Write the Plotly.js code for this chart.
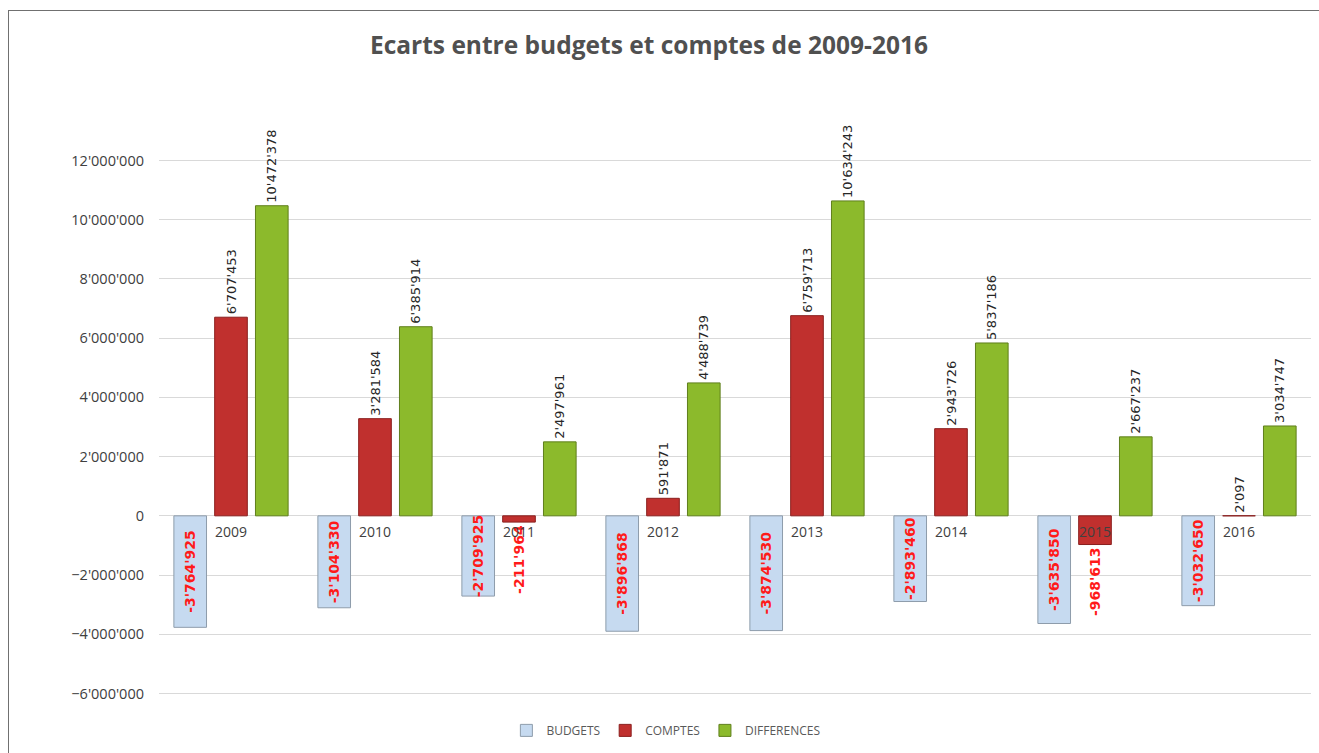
<!DOCTYPE html>
<html>
<head>
<meta charset="utf-8">
<script src="https://cdn.plot.ly/plotly-3.0.1.min.js"></script>
<style>
  html, body { margin: 0; padding: 0; background: #ffffff; overflow: hidden; }
  #frame { position: absolute; left: 8px; top: 10px; width: 1400px; height: 800px;
           border-left: 1px solid #707070; border-top: 1px solid #707070; }
  #chart { position: absolute; left: 0; top: 0; width: 1319px; height: 753px; }
</style>
</head>
<body>
<div id="frame"></div>
<div id="chart"></div>
<script>
const years = ['2009', '2010', '2011', '2012', '2013', '2014', '2015', '2016'];
const budgets = [-3764925, -3104330, -2709925, -3896868, -3874530, -2893460, -3635850, -3032650];
const comptes = [6707453, 3281584, -211964, 591871, 6759713, 2943726, -968613, 2097];
const differences = [10472378, 6385914, 2497961, 4488739, 10634243, 5837186, 2667237, 3034747];
const seriesNames = ['BUDGETS', 'COMPTES', 'DIFFERENCES'];
const yTicks = [-6000000, -4000000, -2000000, 0, 2000000, 4000000, 6000000, 8000000, 10000000, 12000000];

const labelFont = 'DejaVu Sans, Verdana, sans-serif';

const traces = [
  {
    type: 'bar', name: seriesNames[0], x: years, y: budgets,
    marker: { color: '#c6daf0', line: { color: '#8e9cab', width: 1 } },
    texttemplate: '<b>%{y:,d}</b>', textposition: 'inside', insidetextanchor: 'middle',
    textangle: -90, constraintext: 'none',
    textfont: { family: labelFont, size: 14, color: '#ff1a1a' },
    cliponaxis: false, hoverinfo: 'x+y+name'
  },
  {
    type: 'bar', name: seriesNames[1], x: years, y: comptes,
    marker: { color: '#c0302e', line: { color: '#8a1f1e', width: 1 } },
    texttemplate: comptes.map(v => v < 0 ? '<b>%{y:,d}</b>' : '%{y:,d}'), textposition: 'outside',
    textangle: -90, constraintext: 'none',
    textfont: { family: labelFont, size: comptes.map(v => v < 0 ? 14 : 13),
                color: comptes.map(v => v < 0 ? '#ff1a1a' : '#262626') },
    cliponaxis: false, hoverinfo: 'x+y+name'
  },
  {
    type: 'bar', name: seriesNames[2], x: years, y: differences,
    marker: { color: '#8cba2c', line: { color: '#5f7f1c', width: 1 } },
    texttemplate: '%{y:,d}', textposition: 'outside',
    textangle: -90, constraintext: 'none',
    textfont: { family: labelFont, size: 13, color: '#262626' },
    cliponaxis: false, hoverinfo: 'x+y+name'
  }
];

// category labels drawn at the zero line (category index positions on the category axis)
const annotations = years.map((y, i) => ({
  x: i, y: 0, xref: 'x', yref: 'y', text: y, showarrow: false,
  yanchor: 'top', xanchor: 'center', yshift: -4,
  font: { family: 'Open Sans, sans-serif', size: 14, color: '#404040' }
}));

const layout = {
  width: 1319, height: 753,
  margin: { l: 159, r: 8, t: 159, b: 56, pad: 0 },
  paper_bgcolor: 'rgba(0,0,0,0)',
  plot_bgcolor: 'rgba(0,0,0,0)',
  separators: ".'",
  barmode: 'group', bargap: 0.15, bargroupgap: 0.2,
  title: {
    text: '<b>Ecarts entre budgets et comptes de 2009-2016</b>',
    font: { family: 'Open Sans, sans-serif', size: 24.5, color: '#505050' },
    x: 0.492, xanchor: 'center', xref: 'container', y: 0.94, yanchor: 'middle', yref: 'container'
  },
  xaxis: {
    type: 'category', categoryorder: 'array', categoryarray: years,
    range: [-0.5, years.length - 0.5], autorange: false,
    showticklabels: false, showgrid: false, zeroline: false,
    showline: false, ticks: ''
  },
  yaxis: {
    range: [-6050000, 12050000], autorange: false, tickvals: yTicks, tickformat: ',d',
    showgrid: true, gridcolor: '#d9d9d9', gridwidth: 1,
    zeroline: true, zerolinecolor: '#d9d9d9', zerolinewidth: 1,
    showline: false, ticks: '', ticklabelstandoff: 14,
    tickfont: { family: 'Open Sans, sans-serif', size: 14.5, color: '#404040' }
  },
  legend: {
    orientation: 'h', x: 0.44, xanchor: 'center', y: -0.066, yanchor: 'middle',
    font: { family: 'Open Sans, sans-serif', size: 12, color: '#595959' },
    traceorder: 'normal'
  },
  annotations: annotations,
  showlegend: true
};

Plotly.newPlot('chart', traces, layout, { displayModeBar: false, responsive: false });
</script>
</body>
</html>
